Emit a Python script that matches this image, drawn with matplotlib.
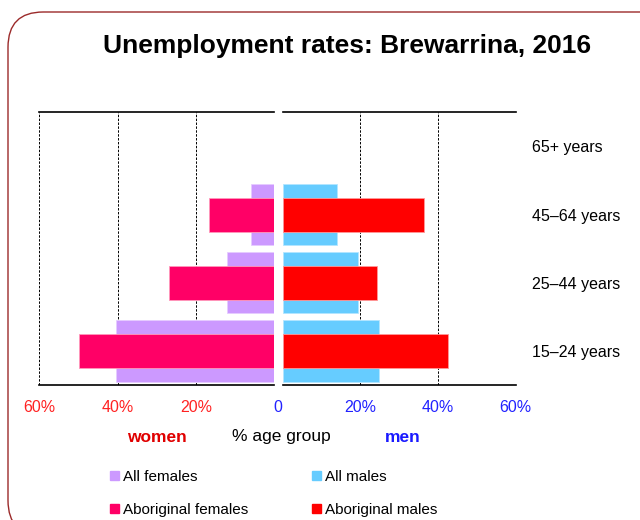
import matplotlib.pyplot as plt
import numpy as np
from matplotlib.patches import FancyBboxPatch, Patch

plt.rcParams['font.family'] = ['Liberation Sans', 'DejaVu Sans']

ages = ['15–24 years', '25–44 years', '45–64 years', '65+ years']
all_females = [40.3, 11.9, 5.9, 0]
abor_females = [49.8, 26.9, 16.6, 0]
all_males = [24.9, 19.3, 14.1, 0]
abor_males = [42.5, 24.3, 36.4, 0]

c_allf = '#cc99ff'
c_abf = '#ff0066'
c_allm = '#66ccff'
c_abm = '#ff0000'

y = np.arange(len(ages))


def edge_w(vals):
    # no outline on empty bars, otherwise a stray line shows at zero
    return [0.6 if v > 0 else 0 for v in vals]


fig = plt.figure(figsize=(6.4, 5.2), dpi=100)

axl = fig.add_axes([39.3 / 640, 135 / 520, 234.7 / 640, 272.7 / 520])
axr = fig.add_axes([282.7 / 640, 135 / 520, 233 / 640, 272.7 / 520])

axl.barh(y, all_females, height=0.9, color=c_allf, edgecolor='#e6ccff',
         lw=edge_w(all_females), zorder=2)
axl.barh(y, abor_females, height=0.5, color=c_abf, edgecolor='#ff99bb',
         lw=edge_w(abor_females), zorder=3)
axr.barh(y, all_males, height=0.9, color=c_allm, edgecolor='#b3e6ff',
         lw=edge_w(all_males), zorder=2)
axr.barh(y, abor_males, height=0.5, color=c_abm, edgecolor='#ff9999',
         lw=edge_w(abor_males), zorder=3)

axl.set_xlim(60, 0)
axr.set_xlim(0, 60)
for ax in (axl, axr):
    ax.set_ylim(-0.5, 3.5)
    for s in ('left', 'right'):
        ax.spines[s].set_visible(False)
    for s in ('top', 'bottom'):
        ax.spines[s].set_linewidth(1.2)
    ax.tick_params(axis='x', length=0, pad=11, labelsize=11.5)

for v in (60, 40, 20):
    axl.axvline(v, color='black', lw=0.7, ls=(0, (2.5, 1.5)), zorder=1)
    axr.axvline(v, color='black', lw=0.7, ls=(0, (2.5, 1.5)), zorder=1)

axl.set_xticks([60, 40, 20])
axl.set_xticklabels(['60%', '40%', '20%'], color='#ff2222')
axl.set_yticks([])
fig.text(278 / 640, 1 - 407 / 520, '0', color='#2222ff', fontsize=11.5,
         ha='center', va='center')

axr.set_xticks([20, 40, 60])
axr.set_xticklabels(['20%', '40%', '60%'], color='#2222ff')
axr.yaxis.tick_right()
axr.set_yticks(y)
axr.set_yticklabels(ages, fontsize=11.5)
axr.tick_params(axis='y', length=0, pad=11.5)

fig.text(347 / 640, 1 - 46 / 520, 'Unemployment rates: Brewarrina, 2016',
         ha='center', va='center', fontsize=19, fontweight='bold')

fig.text(157 / 640, 1 - 437 / 520, 'women', color='#e00000', fontweight='bold',
         fontsize=12.5, ha='center', va='center')
fig.text(281 / 640, 1 - 437 / 520, '% age group', color='black',
         fontsize=12.5, ha='center', va='center')
fig.text(403 / 640, 1 - 437 / 520, 'men', color='#1a1aff', fontweight='bold',
         fontsize=12.5, ha='center', va='center')

handles = [Patch(color=c_allf), Patch(color=c_abf), Patch(color=c_allm), Patch(color=c_abm)]
labels = ['All females', 'Aboriginal females', 'All males', 'Aboriginal males']
fig.legend(handles, labels, ncol=2, frameon=False, fontsize=11,
           loc='upper left', bbox_to_anchor=(96 / 640, 1 - 456 / 520),
           handlelength=0.6, handleheight=0.6, handletextpad=0.25,
           columnspacing=4.2, labelspacing=1.25)

border = FancyBboxPatch((8 / 640, -0.03), 1.05, 1 - 12 / 520 + 0.03,
                        boxstyle='round,pad=0,rounding_size=0.055',
                        transform=fig.transFigure, fill=False,
                        edgecolor='#9b2a2a', lw=1.0, mutation_aspect=640 / 520)
fig.patches.append(border)

fig.savefig('out.png', dpi=100)
